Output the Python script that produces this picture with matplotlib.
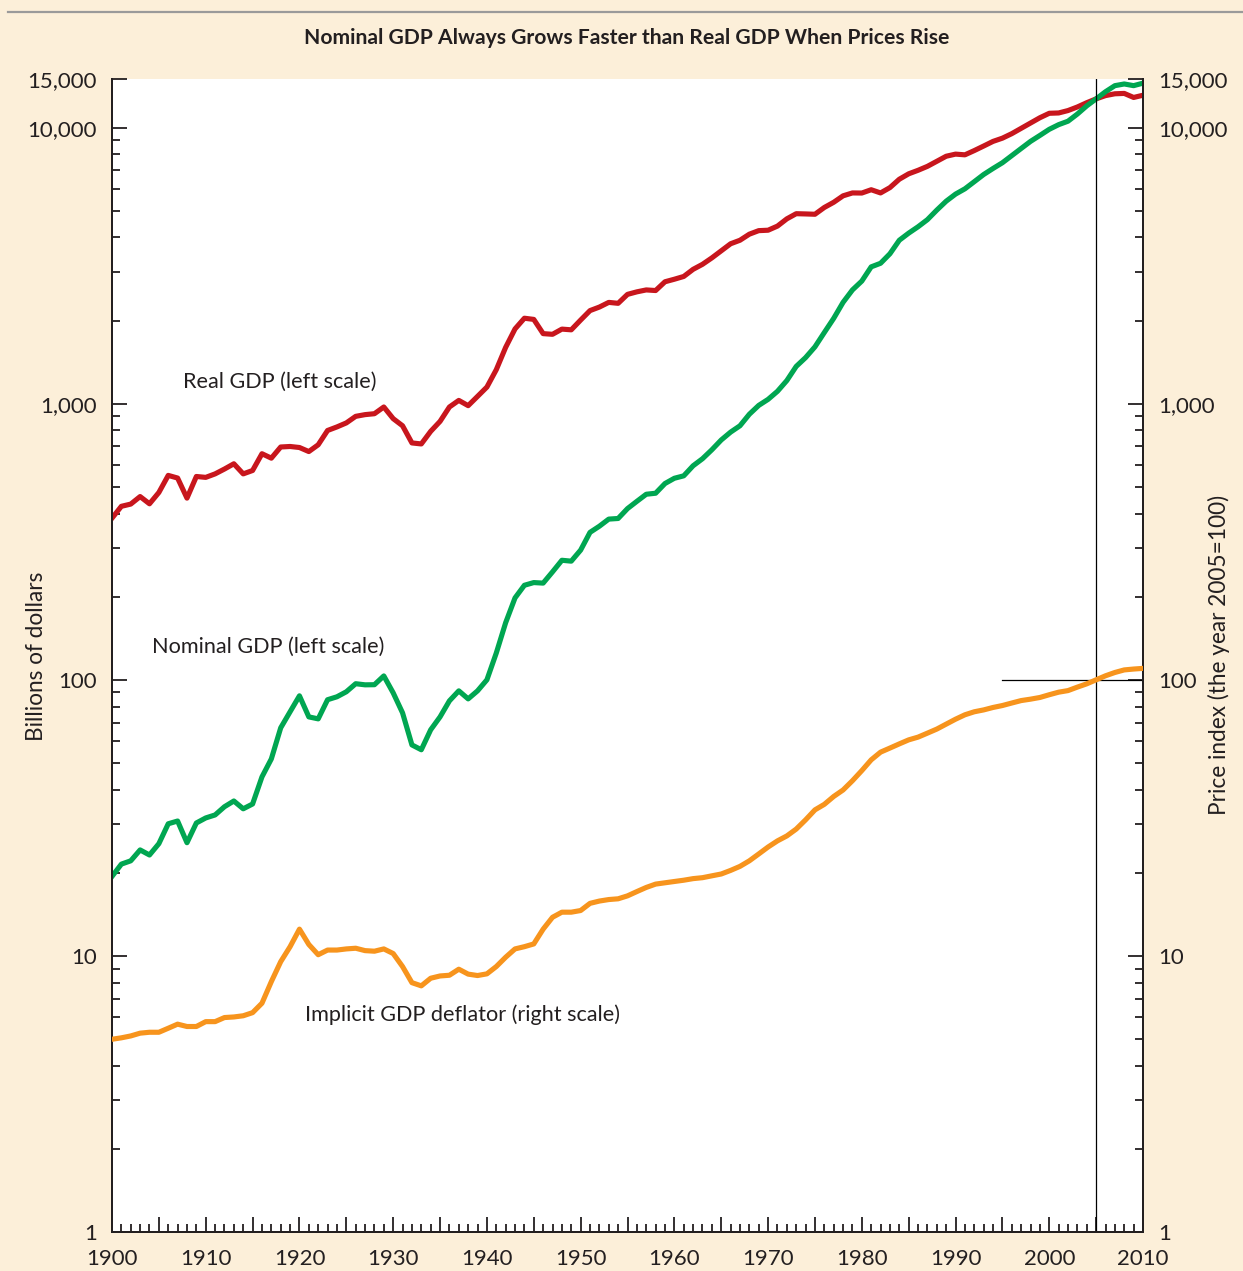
import numpy as np
import matplotlib
matplotlib.use("Agg")
import matplotlib.pyplot as plt
from matplotlib.ticker import FixedLocator, LogLocator, NullFormatter, MultipleLocator

plt.rcParams['font.family'] = ['Lato', 'DejaVu Sans']

years = list(range(1900, 2011))

real_gdp = [385, 425, 433, 461, 434, 477, 550, 538, 455, 545,
            541, 557, 580, 606, 557, 573, 659, 635, 697, 700,
            694, 671, 710, 800, 824, 852, 900, 913, 920, 973,
            883, 832, 721, 715, 794, 863, 973, 1028, 984, 1063,
            1149, 1328, 1600, 1866, 2040, 2020, 1794, 1784, 1863, 1852,
            2009, 2174, 2239, 2328, 2310, 2489, 2542, 2583, 2570, 2765,
            2824, 2890, 3067, 3198, 3374, 3579, 3796, 3909, 4112, 4235,
            4250, 4399, 4673, 4878, 4868, 4855, 5138, 5365, 5662, 5800,
            5795, 5957, 5800, 6064, 6502, 6803, 7005, 7240, 7551, 7876,
            8017, 7970, 8258, 8577, 8915, 9158, 9509, 9940, 10390, 10860,
            11270, 11300, 11530, 11880, 12310, 12710, 13060, 13260, 13300, 12860,
            13100]

nominal_gdp = [19.4, 21.5, 22.1, 24.2, 23.2, 25.5, 30.1, 30.8, 25.7, 30.3,
               31.6, 32.4, 34.7, 36.4, 34.1, 35.5, 44.5, 51.7, 67.0, 76.6,
               87.5, 73.4, 72.2, 84.7, 86.8, 90.5, 96.8, 95.9, 96.0, 103.3,
               89.7, 75.9, 58.1, 55.8, 65.9, 73.4, 83.9, 91.2, 85.3, 91.2,
               100, 125, 161, 198, 220, 225, 224, 246, 271, 269,
               295, 342, 360, 382, 384, 417, 443, 470, 474, 514,
               537, 548, 596, 632, 681, 739, 789, 832, 916, 986,
               1037, 1109, 1213, 1365, 1469, 1607, 1811, 2038, 2329, 2583,
               2781, 3131, 3226, 3493, 3909, 4148, 4374, 4642, 5026, 5414,
               5744, 6003, 6371, 6764, 7113, 7461, 7918, 8403, 8915, 9370,
               9860, 10250, 10550, 11200, 11990, 12710, 13490, 14190, 14390, 14190,
               14490]

deflator = [4.99, 5.05, 5.13, 5.25, 5.29, 5.29, 5.47, 5.66, 5.55, 5.55,
            5.78, 5.78, 5.98, 6.01, 6.07, 6.23, 6.74, 8.07, 9.53, 10.8,
            12.5, 11.0, 10.1, 10.5, 10.5, 10.6, 10.66, 10.45, 10.4, 10.6,
            10.2, 9.15, 8.0, 7.79, 8.3, 8.46, 8.51, 8.95, 8.59, 8.49,
            8.61, 9.15, 9.89, 10.6, 10.8, 11.05, 12.5, 13.8, 14.4, 14.4,
            14.6, 15.5, 15.8, 16.0, 16.1, 16.5, 17.1, 17.7, 18.2, 18.4,
            18.6, 18.8, 19.05, 19.2, 19.5, 19.8, 20.4, 21.1, 22.1, 23.4,
            24.8, 26.1, 27.2, 28.8, 31.1, 33.8, 35.4, 37.8, 39.9, 43.1,
            46.9, 51.3, 54.7, 56.6, 58.6, 60.6, 62.0, 64.1, 66.3, 69.1,
            72.0, 74.7, 76.6, 77.8, 79.4, 80.7, 82.4, 84.1, 85.1, 86.3,
            88.3, 90.2, 91.4, 94.1, 96.7, 100.0, 103.4, 106.3, 108.6, 109.4,
            110.0]

y_ticks = [1, 10, 100, 1000, 10000, 15000]
y_tick_labels = ['1', '10', '100', '1,000', '10,000', '15,000']
x_ticks = [1900, 1910, 1920, 1930, 1940, 1950, 1960, 1970, 1980, 1990, 2000, 2010]

title = 'Nominal GDP Always Grows Faster than Real GDP When Prices Rise'
left_label = 'Billions of dollars'
right_label = 'Price index (the year 2005=100)'
label_real = 'Real GDP (left scale)'
label_nominal = 'Nominal GDP (left scale)'
label_deflator = 'Implicit GDP deflator (right scale)'

BG = '#fcefd9'
TXT = '#231f20'
RED = '#c8161d'
GREEN = '#00a651'
ORANGE = '#f7941d'

W, H = 1243, 1271
fig = plt.figure(figsize=(W / 100, H / 100), dpi=100)
fig.patch.set_facecolor(BG)

# top gray rule
fig.add_artist(plt.Line2D([8 / W, 1.0], [1 - 12 / H, 1 - 12 / H], color='#9a9a9a', lw=1.6))

ax = fig.add_axes([112 / W, 39 / H, (1143 - 112) / W, (1232 - 79) / H])
ax.set_facecolor('white')
ax.set_yscale('log')
ax.set_xlim(1900, 2010)
ax.set_ylim(1, 15000)

ax.plot(years, real_gdp, color=RED, lw=3.7, solid_joinstyle='round', zorder=3)
ax.plot(years, nominal_gdp, color=GREEN, lw=3.7, solid_joinstyle='round', zorder=3)

ax2 = ax.twinx()
ax2.set_yscale('log')
ax2.set_ylim(1, 15000)
ax2.set_xlim(1900, 2010)
ax2.plot(years, deflator, color=ORANGE, lw=3.7, solid_joinstyle='round', zorder=3)

# reference lines at 2005 = 100
ax2.axvline(2005, color='black', lw=0.9, zorder=2)
ax2.plot([1995, 2010], [100, 100], color='black', lw=0.9, zorder=2)

for a in (ax, ax2):
    a.spines['top'].set_visible(False)
    for s in ('left', 'right', 'bottom'):
        a.spines[s].set_color('#231f20')
        a.spines[s].set_linewidth(1.4)

# y ticks
for a in (ax, ax2):
    a.yaxis.set_major_locator(FixedLocator(y_ticks))
    a.set_yticklabels(y_tick_labels)
    a.yaxis.set_minor_locator(LogLocator(base=10, subs=np.arange(2, 10), numticks=20))
    a.yaxis.set_minor_formatter(NullFormatter())
    a.tick_params(axis='y', which='major', direction='in', length=11, width=1.3,
                  color='#231f20', labelsize=16, labelcolor=TXT, pad=11)
    a.tick_params(axis='y', which='minor', direction='in', length=6, width=1.3,
                  color='#231f20')

ax2.tick_params(axis='y', which='both', left=False, right=True, labelleft=False, labelright=True)
ax.tick_params(axis='y', which='both', left=True, right=False, labelleft=True, labelright=False)

# x ticks
ax.xaxis.set_minor_locator(MultipleLocator(1))
ax.set_xticks(list(range(1900, 2011, 5)))
ax.set_xticklabels([str(y) if y in x_ticks else '' for y in range(1900, 2011, 5)])
ax.tick_params(axis='x', which='major', direction='in', length=11, width=1.3,
               color='#231f20', labelsize=16, labelcolor=TXT, pad=12)
ax.tick_params(axis='x', which='minor', direction='in', length=6, width=1.3, color='#231f20')
ax2.tick_params(axis='x', which='both', bottom=False, top=False)

# labels
fig.text(37 / W, 1 - 656 / H, left_label, rotation=90, ha='center', va='center',
         fontsize=16.3, color=TXT)
fig.text(1219 / W, 1 - 655 / H, right_label, rotation=90, ha='center', va='center',
         fontsize=16.3, color=TXT)
fig.text(627 / W, 1 - 38 / H, title, ha='center', va='center', fontsize=15.2,
         fontweight='bold', color=TXT)

ax.text(1907.6, 1202, label_real, ha='left', va='center', fontsize=15.6, color=TXT)
ax.text(1904.3, 131.7, label_nominal, ha='left', va='center', fontsize=15.6, color=TXT)
ax2.text(1920.6, 6.11, label_deflator, ha='left', va='center', fontsize=15.6, color=TXT)

fig.savefig('out.png', dpi=100, facecolor=BG)
